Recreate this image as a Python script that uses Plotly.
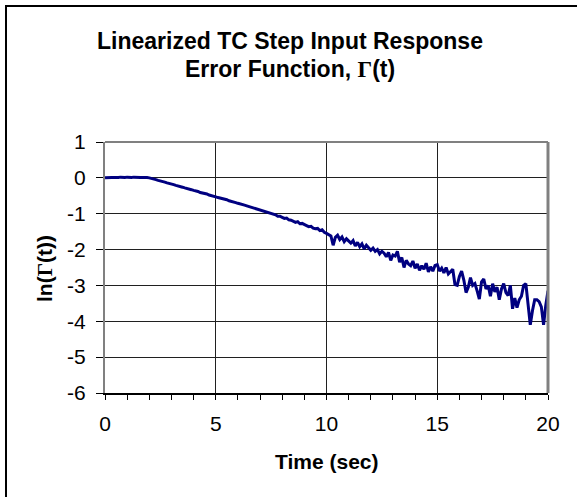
import plotly.graph_objects as go

# time axis (s), sampled every 0.1 s
time_s = [round(i * 0.1, 1) for i in range(201)]

ln_gamma = [
    0.00, 0.01, 0.00, 0.01, 0.01, 0.00, 0.01, 0.02, 0.01, 0.01, 0.02,
    0.01, 0.01, 0.02, 0.01, 0.02, 0.01, 0.01, 0.02, 0.01, 0.00,
    -0.01, -0.03, -0.05, -0.07, -0.08, -0.10, -0.12, -0.14, -0.15, -0.17,
    -0.19, -0.21, -0.22, -0.25, -0.26, -0.28, -0.29, -0.31, -0.33, -0.35,
    -0.36, -0.38, -0.41, -0.42, -0.44, -0.45, -0.48, -0.49, -0.51, -0.53,
    -0.55, -0.56, -0.58, -0.60, -0.61, -0.64, -0.65, -0.67, -0.69, -0.71,
    -0.72, -0.75, -0.76, -0.78, -0.80, -0.81, -0.84, -0.86, -0.87, -0.90,
    -0.92, -0.93, -0.97, -0.97, -1.00, -1.02, -1.03, -1.07, -1.07, -1.10,
    -1.13, -1.12, -1.17, -1.18, -1.20, -1.24, -1.22, -1.28, -1.27, -1.31,
    -1.33, -1.36, -1.35, -1.40, -1.42, -1.41, -1.47, -1.45, -1.52, -1.55,
    -1.58, -1.62, -1.88, -1.66, -1.60, -1.72, -1.65, -1.78, -1.70, -1.76,
    -1.82, -1.75, -1.90, -1.80, -1.92, -1.84, -1.98, -1.88, -1.94, -2.02,
    -1.96, -2.05, -2.00, -2.12, -2.05, -2.10, -2.20, -2.08, -2.30, -2.15,
    -2.18, -2.05, -2.35, -2.22, -2.50, -2.30, -2.40, -2.45, -2.32, -2.52,
    -2.40, -2.58, -2.45, -2.55, -2.38, -2.62, -2.48, -2.60, -2.44, -2.42,
    -2.60, -2.52, -2.65, -2.50, -2.68, -2.62, -2.55, -2.98, -3.00, -2.75,
    -2.60, -2.85, -3.20, -3.05, -2.78, -3.00, -2.95, -3.15, -3.38, -2.90,
    -2.82, -3.10, -3.00, -3.30, -2.95, -3.18, -3.05, -3.40, -3.10, -2.95,
    -3.20, -3.28, -3.00, -3.65, -3.35, -3.62, -3.40, -3.30, -3.00, -2.95,
    -3.50, -4.10, -3.70, -3.40, -3.40, -3.45, -3.60, -4.10, -3.55, -3.15,
]

x_major = [0, 5, 10, 15, 20]
x_major_labels = ["0", "5", "10", "15", "20"]
x_minor = list(range(0, 21))
y_ticks = [1, 0, -1, -2, -3, -4, -5, -6]
y_tick_labels = ["1", "0", "-1", "-2", "-3", "-4", "-5", "-6"]

title_line1 = "<b>Linearized TC Step Input Response</b>"
title_line2 = "<b>Error Function, <span style='font-family:Liberation Serif'>Γ</span>(t)</b>"
ytitle = "<b>ln(<span style='font-family:Liberation Serif'>Γ</span>(t))</b>"
xtitle = "<b>Time (sec)</b>"

L, R, T, B = 105, 29, 142, 104
W, H = 577, 497
pw, ph = W - L - R, H - T - B


def px_x(xp):
    return (xp - L) / pw


def px_y(yp):
    return (H - B - yp) / ph


fig = go.Figure()
fig.add_trace(go.Scatter(x=time_s, y=ln_gamma, mode="lines",
                         line=dict(color="#000080", width=3),
                         showlegend=False, hoverinfo="skip"))

FONT = "Liberation Sans, Arial"
fig.update_layout(
    width=W, height=H,
    margin=dict(l=L, r=R, t=T, b=B, autoexpand=False),
    paper_bgcolor="white", plot_bgcolor="white",
    font=dict(family=FONT, size=21, color="black"),
    xaxis=dict(range=[0, 20], tickvals=x_major, ticktext=x_major_labels,
               ticks="outside", ticklen=5, automargin=False,
               tickcolor="black", showgrid=True, gridcolor="#202020", gridwidth=1,
               showline=True, linecolor="black", linewidth=1.5, mirror=False,
               zeroline=False, tickfont=dict(size=21), ticklabelstandoff=6,
               minor=dict(tickvals=x_minor, ticks="outside", ticklen=5,
                          tickcolor="black", showgrid=False)),
    xaxis2=dict(range=[0, 20], overlaying="x", anchor="y", side="bottom",
                tickvals=x_minor, ticks="inside", ticklen=5, tickcolor="black",
                showticklabels=False, showgrid=False, zeroline=False, showline=False),
    yaxis=dict(range=[-6, 1], tickvals=y_ticks, ticktext=y_tick_labels,
               ticks="outside", ticklen=7, automargin=False,
               tickcolor="black", showgrid=True, gridcolor="#202020", gridwidth=1,
               showline=True, linecolor="#808080", linewidth=2, zeroline=False,
               tickfont=dict(size=21), ticklabelstandoff=6),
    annotations=[
        dict(text=title_line1, xref="paper", yref="paper", x=px_x(290), y=px_y(41),
             xanchor="center", yanchor="middle", showarrow=False,
             font=dict(size=23, family=FONT, color="black")),
        dict(text=title_line2, xref="paper", yref="paper", x=px_x(290), y=px_y(69),
             xanchor="center", yanchor="middle", showarrow=False,
             font=dict(size=23, family=FONT, color="black")),
        dict(text=xtitle, xref="paper", yref="paper", x=0.5, y=px_y(461),
             xanchor="center", yanchor="middle", showarrow=False,
             font=dict(size=21, family=FONT, color="black")),
        dict(text=ytitle, xref="paper", yref="paper", x=px_x(45), y=px_y(268),
             xanchor="center", yanchor="middle", showarrow=False, textangle=-90,
             font=dict(size=21, family=FONT, color="black")),
    ],
    shapes=[
        dict(type="line", xref="paper", yref="paper", x0=0, x1=1, y0=1, y1=1,
             line=dict(color="#808080", width=2)),
        dict(type="line", xref="paper", yref="paper", x0=1, x1=1, y0=0, y1=1,
             line=dict(color="#808080", width=3)),
        dict(type="rect", xref="paper", yref="paper",
             x0=px_x(6), x1=px_x(W + 10),
             y0=px_y(H + 10), y1=px_y(6),
             line=dict(color="black", width=2), layer="above"),
    ],
)

fig.write_html("out.html", config={"displayModeBar": False},
               post_script="document.body.style.margin='0';document.body.style.overflow='hidden';")
